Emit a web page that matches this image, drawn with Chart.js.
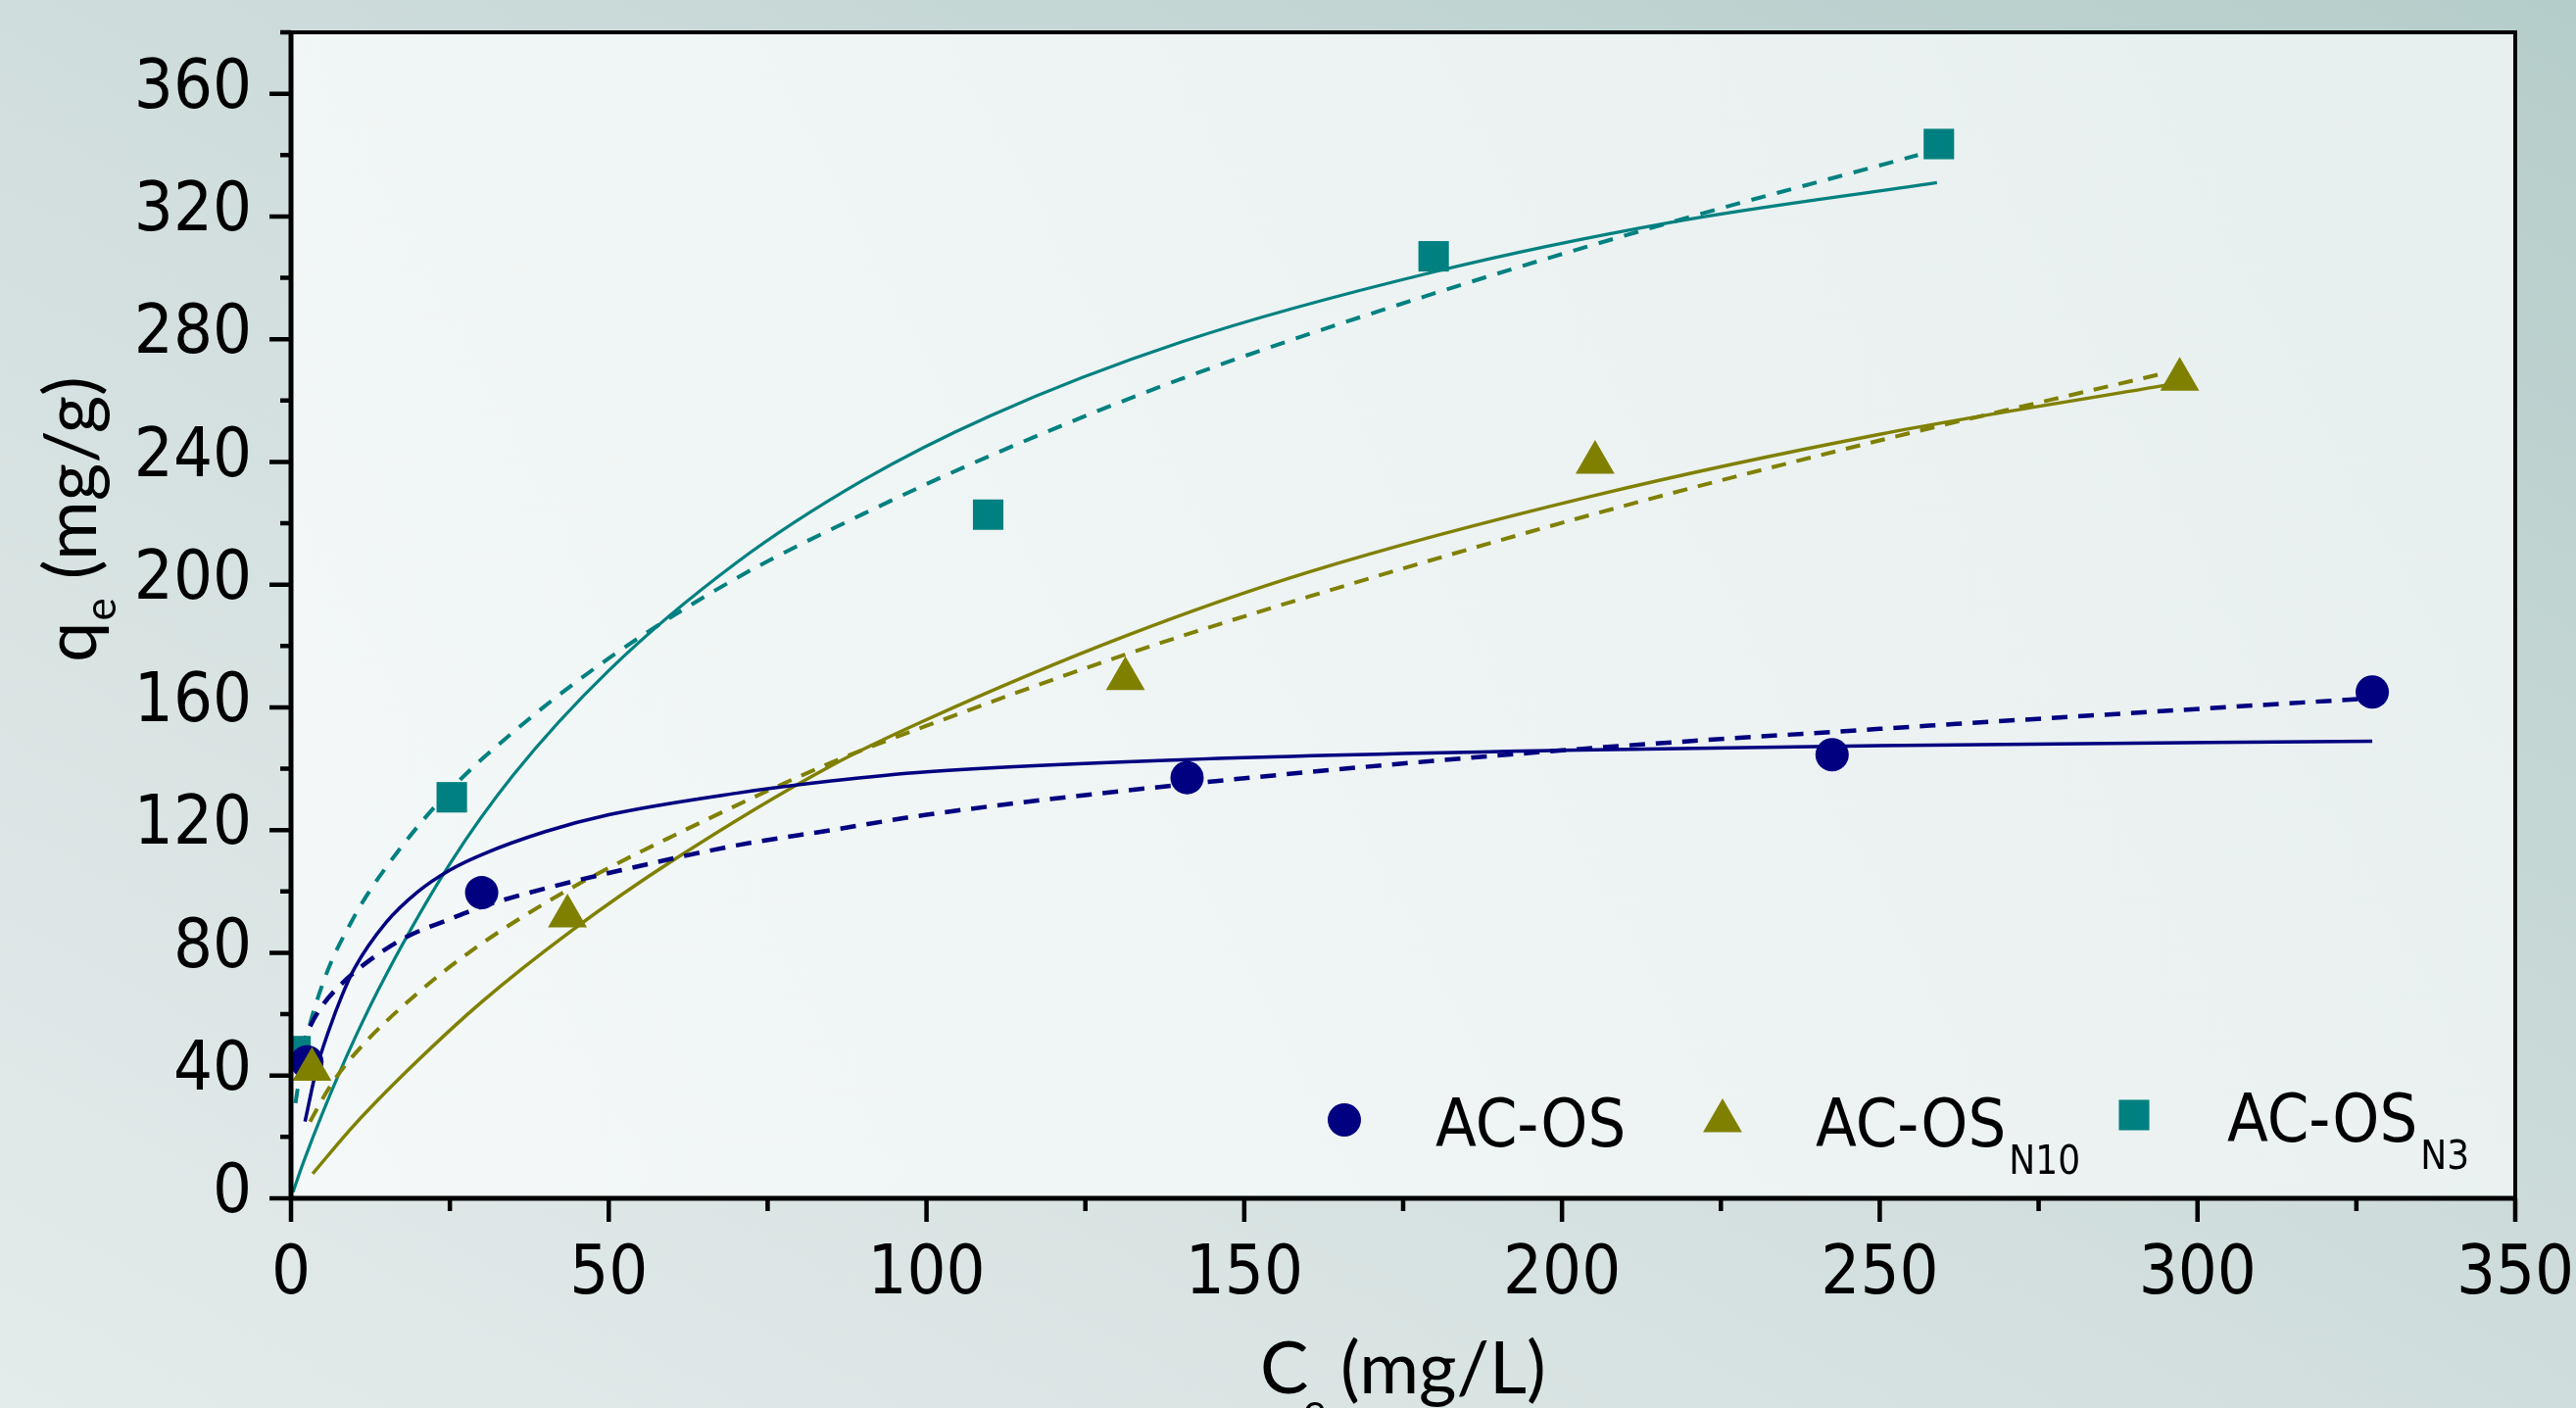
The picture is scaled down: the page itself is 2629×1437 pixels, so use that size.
<!DOCTYPE html>
<html>
<head>
<meta charset="utf-8">
<script src="https://cdn.jsdelivr.net/npm/chart.js@4.4.1/dist/chart.umd.min.js"></script>
<style>
  html, body { margin: 0; padding: 0; overflow: hidden; }
  body {
    width: 2629px; height: 1437px;
    background: linear-gradient(to top right, #e4ebeb 0%, #d2dfde 45%, #b5cdca 100%);
  }
  #chart { display: block; }
</style>
</head>
<body>
<canvas id="chart" width="2629" height="1437"></canvas>
<script>
// measured points
const acosX = [2.5, 30, 141, 242.5, 327.5];
const acosY = [44.5, 99.6, 137.1, 144.6, 165];
const n10X = [3.3, 43.5, 131.3, 205.2, 297.2];
const n10Y = [42, 92, 169.3, 239.8, 266.9];
const n3X = [0.7, 25.3, 109.7, 179.8, 259.3];
const n3Y = [48, 130.7, 222.8, 307, 343.6];

// fitted curves (solid = Langmuir, dashed = Freundlich)
const acosLangX = [2.2, 4, 6, 8, 10, 15, 20, 25, 30, 40, 50, 70, 85, 100, 141, 200, 250, 327.5];
const acosLangY = [25, 42, 55, 66, 75, 90, 100, 107, 112, 119.5, 125, 132, 136, 139, 143, 146, 147.5, 149];
const acosFreX = [1.5, 3, 5, 8, 12, 18, 25, 30, 40, 50, 70, 85, 100, 141, 200, 250, 327.5];
const acosFreY = [48, 56, 63, 70, 77, 85, 91, 95, 101, 106, 115, 120, 125, 135, 146, 153, 163];

const n10LangX = [3.4, 10, 20, 30, 44, 60, 85, 100, 131, 160, 205, 250, 295];
const n10LangY = [8, 24, 45, 64, 87, 110, 141, 156, 183, 204, 229, 249, 265];
const n10FreX = [3, 6, 10, 20, 30, 44, 60, 85, 100, 131, 160, 205, 250, 295];
const n10FreY = [25, 36, 47, 67, 83, 101, 118, 142, 154, 177, 196, 223, 247, 269];

const n3LangX = [0.3, 2, 5, 10, 15, 25, 35, 50, 70, 90, 110, 140, 180, 217, 259];
const n3LangY = [2, 12, 28, 52, 73, 109, 138, 172, 207, 234, 255, 279, 302, 318, 331];
const n3FreX = [0.7, 2, 5, 10, 15, 25, 35, 50, 70, 90, 110, 140, 180, 217, 256];
const n3FreY = [31, 48, 70, 92, 108, 133, 152, 176, 202, 223, 242, 267, 295, 318, 340];

const xTicks = [0, 50, 100, 150, 200, 250, 300, 350];
const yTicks = [0, 40, 80, 120, 160, 200, 240, 280, 320, 360];

const NAVY = '#000080', OLIVE = '#808000', TEAL = '#008080';
const NARROW = "'Liberation Sans Narrow', 'DejaVu Sans Condensed', sans-serif";
const TITLE_FONT = "Lato, 'Open Sans', sans-serif";

function pts(xs, ys) {
    return xs.map((x, i) => ({ x: x, y: ys[i] }));
}

function scatterSet(label, xs, ys, color, style, r) {
    return {
        label: label, data: pts(xs, ys), showLine: false,
        pointStyle: style, pointRadius: r, pointHoverRadius: r,
        backgroundColor: color, borderColor: color, borderWidth: 0
    };
}

function curveSet(xs, ys, color, width, dash) {
    return {
        data: pts(xs, ys), showLine: true, pointRadius: 0,
        borderColor: color, borderWidth: width, borderDash: dash || [],
        cubicInterpolationMode: 'monotone', fill: false
    };
}

function noPad(s) {
    s.paddingLeft = 0; s.paddingRight = 0; s.paddingTop = 0; s.paddingBottom = 0;
}

const frame = {
    id: 'frame',
    beforeDatasetsDraw(chart) {
        const { ctx, chartArea: a } = chart;
        ctx.save();
        const g = ctx.createLinearGradient(a.left, a.bottom, a.right, a.top);
        g.addColorStop(0, '#f4f8f8');
        g.addColorStop(1, '#e7efee');
        ctx.fillStyle = g;
        ctx.fillRect(a.left, a.top, a.right - a.left, a.bottom - a.top);
        ctx.restore();
    },
    afterDraw(chart) {
        const { ctx, chartArea: a } = chart;
        const xs = chart.scales.x, ys = chart.scales.y;
        ctx.save();
        ctx.strokeStyle = '#000';
        // top / right border
        ctx.lineWidth = 4;
        ctx.beginPath();
        ctx.moveTo(a.left, a.top); ctx.lineTo(a.right, a.top); ctx.lineTo(a.right, a.bottom);
        ctx.stroke();
        // axes
        ctx.lineWidth = 5;
        ctx.beginPath();
        ctx.moveTo(a.left, a.top - 2); ctx.lineTo(a.left, a.bottom);
        ctx.lineTo(a.right + 2, a.bottom);
        ctx.stroke();
        // ticks
        ctx.lineWidth = 4.5;
        ctx.beginPath();
        for (let v = 0; v <= 380; v += 20) {
            const y = ys.getPixelForValue(v);
            const len = v % 40 === 0 ? 22 : 11;
            ctx.moveTo(a.left - len, y); ctx.lineTo(a.left, y);
        }
        for (let v = 0; v <= 350; v += 25) {
            const x = xs.getPixelForValue(v);
            const len = v % 50 === 0 ? 24 : 13;
            ctx.moveTo(x, a.bottom); ctx.lineTo(x, a.bottom + len);
        }
        ctx.stroke();

        // axis titles
        ctx.fillStyle = '#000';
        ctx.textBaseline = 'alphabetic';
        const base = 1422;
        ctx.font = '74px ' + TITLE_FONT;
        ctx.fillText('C', 1286, base);
        ctx.font = '44px ' + TITLE_FONT;
        ctx.fillText('e', 1330, base + 32);
        ctx.font = '74px ' + TITLE_FONT;
        ctx.fillText('(mg/L)', 1368, base);

        ctx.save();
        ctx.translate(98, 530);
        ctx.rotate(-Math.PI / 2);
        ctx.font = '74px ' + TITLE_FONT;
        const w1 = ctx.measureText('q').width;
        ctx.font = '44px ' + TITLE_FONT;
        const w2 = ctx.measureText('e').width;
        ctx.font = '74px ' + TITLE_FONT;
        const w3 = ctx.measureText('(mg/g)').width;
        let tx = -(w1 + w2 + 20 + w3) / 2;
        ctx.fillText('q', tx, 0);
        tx += w1 + 1;
        ctx.font = '44px ' + TITLE_FONT;
        ctx.fillText('e', tx, 20);
        tx += w2 + 19;
        ctx.font = '74px ' + TITLE_FONT;
        ctx.fillText('(mg/g)', tx, 0);
        ctx.restore();

        // legend
        const items = [
            { color: NAVY, style: 'circle', r: 17, mx: 1372, my: 1143, tx: 1465, ty: 1170, sub: '' },
            { color: OLIVE, style: 'triangle', r: 23, mx: 1758, my: 1144, tx: 1853, ty: 1170, sub: 'N10' },
            { color: TEAL, style: 'rect', r: 22, mx: 2178, my: 1138, tx: 2273, ty: 1165, sub: 'N3' }
        ];
        items.forEach(it => {
            ctx.fillStyle = it.color;
            Chart.helpers.drawPoint(ctx, { pointStyle: it.style, radius: it.r, rotation: 0, borderWidth: 0 }, it.mx, it.my);
            ctx.fillStyle = '#000';
            ctx.font = '68px ' + NARROW;
            ctx.fillText('AC-OS', it.tx, it.ty);
            if (it.sub) {
                const sx = it.tx + ctx.measureText('AC-OS').width + 3;
                ctx.font = '40px ' + NARROW;
                ctx.fillText(it.sub, sx, it.ty + 28);
            }
        });
        ctx.restore();
    }
};

new Chart(document.getElementById('chart'), {
    type: 'scatter',
    data: {
        datasets: [
            scatterSet('AC-OSN10', n10X, n10Y, OLIVE, 'triangle', 23),
            scatterSet('AC-OS', acosX, acosY, NAVY, 'circle', 17),
            scatterSet('AC-OSN3', n3X, n3Y, TEAL, 'rect', 22),
            curveSet(acosLangX, acosLangY, NAVY, 3.5),
            curveSet(acosFreX, acosFreY, NAVY, 4.5, [16, 11]),
            curveSet(n10LangX, n10LangY, OLIVE, 3.5),
            curveSet(n10FreX, n10FreY, OLIVE, 4, [15, 11]),
            curveSet(n3LangX, n3LangY, TEAL, 3.2),
            curveSet(n3FreX, n3FreY, TEAL, 4, [15, 12])
        ]
    },
    options: {
        responsive: false,
        animation: false,
        events: [],
        layout: { padding: { top: 33, right: 62, left: 0, bottom: 0 } },
        plugins: { legend: { display: false }, tooltip: { enabled: false } },
        scales: {
            x: {
                type: 'linear', min: 0, max: 350,
                border: { display: false },
                grid: { display: true, drawOnChartArea: false, drawTicks: false },
                afterBuildTicks: s => { s.ticks = xTicks.map(v => ({ value: v })); },
                afterFit: s => { s.height = 214; noPad(s); },
                ticks: { color: '#000', padding: 37, maxRotation: 0, font: { family: NARROW, size: 70 } }
            },
            y: {
                type: 'linear', min: 0, max: 380,
                border: { display: false },
                grid: { display: true, drawOnChartArea: false, drawTicks: false },
                afterBuildTicks: s => { s.ticks = yTicks.map(v => ({ value: v })); },
                afterFit: s => { s.width = 297; noPad(s); },
                ticks: { color: '#000', padding: 40, labelOffset: -4, font: { family: NARROW, size: 70 } }
            }
        }
    },
    plugins: [frame]
});
</script>
</body>
</html>
